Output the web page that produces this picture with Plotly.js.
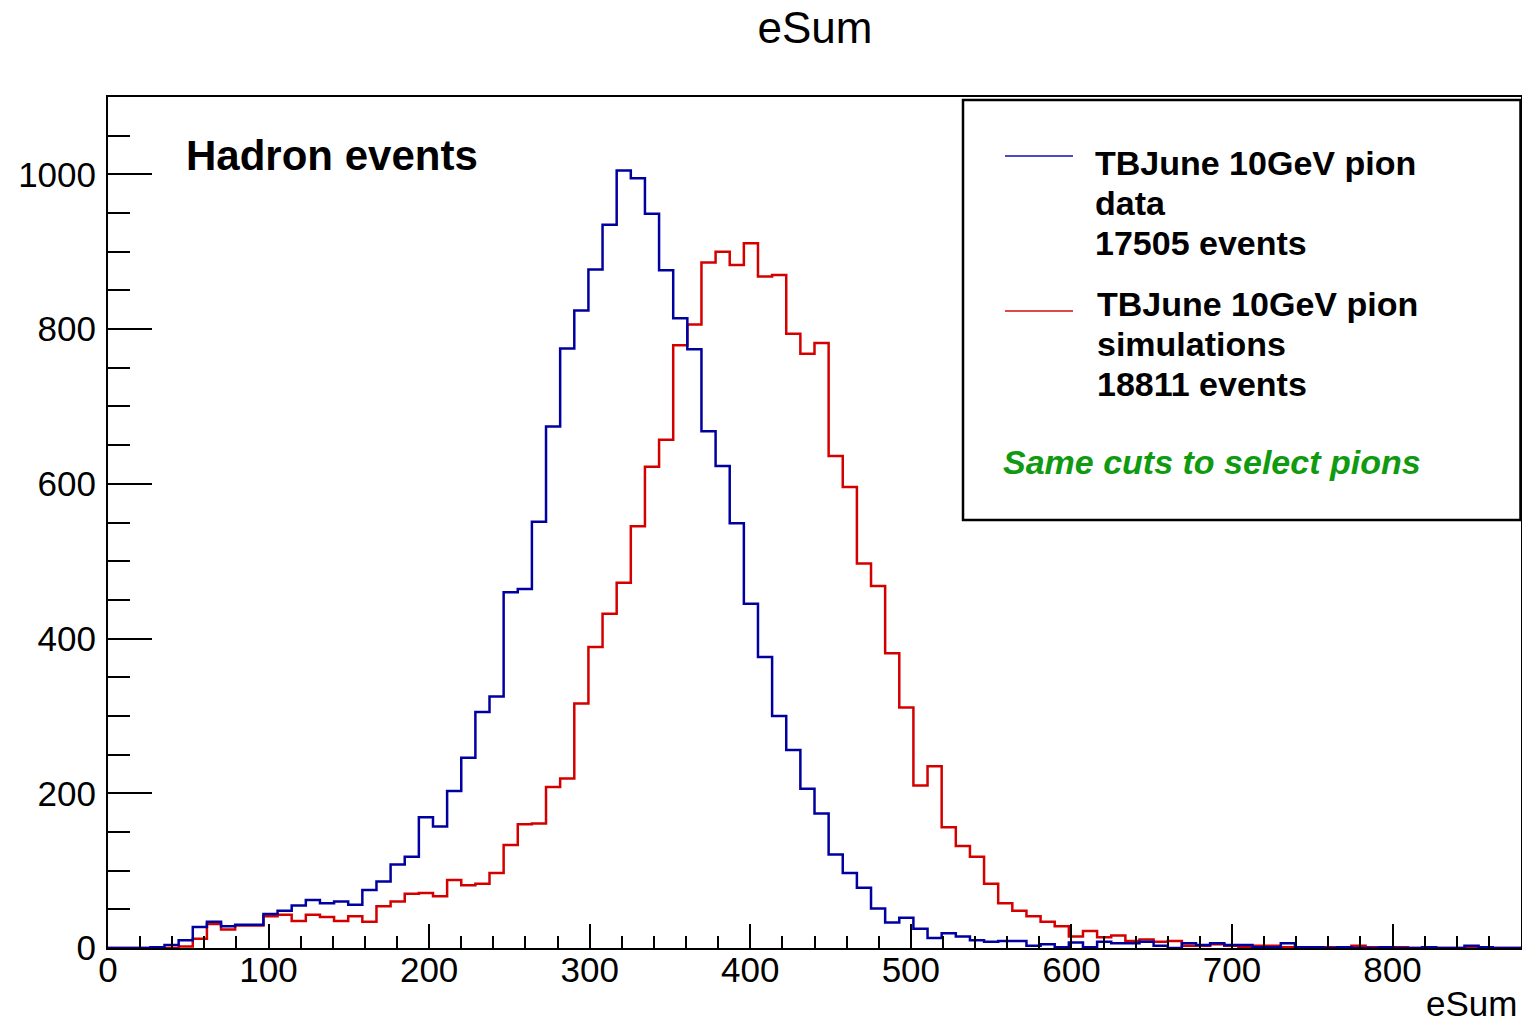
<!DOCTYPE html>
<html>
<head>
<meta charset="utf-8">
<script src="https://cdn.plot.ly/plotly-3.0.1.min.js"></script>
<style>
  html, body { margin: 0; padding: 0; background: #ffffff; }
  #chart { width: 1522px; height: 1025px; }
</style>
</head>
<body>
<div id="chart"></div>
<script>
// ---- Binning (ROOT TH1: 100 bins from 0 to 880) ----
const NBINS = 100;
const XMIN = 0;
const XMAX = 880;

// ---- Data: TBJune 10GeV pion data (17505 events) ----
const dataCounts = [
  0, 0, 0, 1, 4, 10, 27, 34, 28, 30,
  30, 44, 48, 55, 62, 58, 60, 56, 75, 86,
  108, 118, 169, 157, 203, 246, 305, 325, 460, 464,
  551, 674, 775, 824, 877, 935, 1005, 995, 949, 876,
  814, 774, 668, 623, 549, 445, 376, 300, 256, 206,
  174, 121, 97, 78, 51, 33, 39, 25, 13, 19,
  15, 10, 8, 9, 9, 3, 5, 1, 7, 1,
  8, 6, 6, 8, 3, 0, 6, 4, 6, 4,
  4, 1, 1, 6, 1, 1, 0, 1, 0, 0,
  1, 0, 0, 1, 0, 0, 3, 1, 0, 0
];

// ---- Data: TBJune 10GeV pion simulations (18811 events) ----
const simCounts = [
  0, 0, 0, 0, 0, 2, 12, 31, 24, 29,
  29, 41, 43, 35, 43, 40, 35, 41, 34, 54,
  60, 70, 71, 67, 88, 81, 83, 97, 133, 160,
  161, 208, 219, 316, 389, 432, 472, 545, 622, 657,
  779, 806, 886, 900, 883, 911, 868, 870, 794, 768,
  782, 636, 596, 497, 468, 381, 311, 210, 235, 156,
  132, 118, 83, 58, 48, 41, 34, 28, 15, 22,
  14, 16, 9, 11, 8, 9, 3, 3, 5, 3,
  1, 3, 3, 1, 1, 1, 1, 1, 3, 1,
  0, 1, 0, 0, 0, 0, 0, 0, 0, 0
];

// ---- Text ----
const titleText = "eSum";
const xTitleText = "eSum";
const tagText = "Hadron events";
const legData = ["TBJune 10GeV pion", "data", "17505 events"];
const legSim = ["TBJune 10GeV pion", "simulations", "18811 events"];
const noteText = "Same cuts to select pions";

// Histogram outline (step) from bin edges
function stepTrace(counts, name, color) {
  const w = (XMAX - XMIN) / NBINS;
  const xs = [], ys = [];
  for (let i = 0; i < counts.length; i++) {
    xs.push(XMIN + i * w);
    ys.push(counts[i]);
  }
  xs.push(XMAX);
  ys.push(counts[counts.length - 1]);
  return {
    type: 'scatter', mode: 'lines', x: xs, y: ys, name: name,
    line: { shape: 'hv', color: color, width: 2.5 },
    showlegend: false, hoverinfo: 'x+y'
  };
}

const BLUE = '#0000a0';
const RED = '#d40000';

const traces = [
  stepTrace(simCounts, 'TBJune 10GeV pion simulations', RED),
  stepTrace(dataCounts, 'TBJune 10GeV pion data', BLUE)
];

// Pixel helpers for layout placement (plot area: x 108..1521, y 97..948)
const L = 108, R = 1521, T = 97, B = 948;
const px = v => (v - L) / (R - L);
const py = v => (B - v) / (B - T);

const FONT = 'Liberation Sans, Arial, Helvetica, sans-serif';

const annotations = [];
function addText(text, x, y, opts) {
  annotations.push(Object.assign({
    text: text, xref: 'paper', yref: 'paper', x: px(x), y: py(y),
    xanchor: 'left', yanchor: 'middle', showarrow: false,
    font: { family: FONT, size: 34, color: '#000000' }
  }, opts || {}));
}

addText('<b>' + tagText + '</b>', 184, 155, { font: { family: FONT, size: 42, color: '#000' } });
legData.forEach((t, i) => addText('<b>' + t + '</b>', 1093, 163 + 40 * i));
legSim.forEach((t, i) => addText('<b>' + t + '</b>', 1095, 304 + 40 * i));
addText('<b><i>' + noteText + '</i></b>', 1001, 462, { font: { family: FONT, size: 34, color: '#109a10' } });
// x-axis title, right aligned as in ROOT
annotations.push({
  text: xTitleText, xref: 'paper', yref: 'paper', x: px(1518), y: py(1003),
  xanchor: 'right', yanchor: 'middle', showarrow: false, borderpad: 0,
  font: { family: FONT, size: 35, color: '#000' }
});

const shapes = [
  { type: 'rect', xref: 'paper', yref: 'paper', x0: px(963), x1: px(1520.5), y0: py(520), y1: py(100),
    line: { color: '#000', width: 2.5 }, fillcolor: 'rgba(255,255,255,1)', layer: 'above' },
  { type: 'line', xref: 'paper', yref: 'paper', x0: px(1005), x1: px(1073), y0: py(156), y1: py(156),
    line: { color: '#4a4ac8', width: 2 } },
  { type: 'line', xref: 'paper', yref: 'paper', x0: px(1005), x1: px(1073), y0: py(311), y1: py(311),
    line: { color: '#dc4a4a', width: 2 } }
];

const axisCommon = {
  ticks: 'inside', tickcolor: '#000', tickwidth: 2,
  showline: true, linecolor: '#000', linewidth: 2, mirror: true,
  showgrid: false, zeroline: false,
  tickfont: { family: FONT, size: 35, color: '#000' }
};

const layout = {
  width: 1522, height: 1025,
  margin: { l: L, r: 1522 - R, t: T, b: 1025 - B },
  paper_bgcolor: '#ffffff', plot_bgcolor: '#ffffff',
  showlegend: false,
  title: {
    text: titleText, xref: 'container', yref: 'container',
    x: 815 / 1522, xanchor: 'center', y: 1 - 28 / 1025, yanchor: 'middle',
    font: { family: FONT, size: 44, color: '#000' }
  },
  xaxis: Object.assign({}, axisCommon, {
    range: [XMIN, XMAX], tick0: 0, dtick: 100, ticklen: 24, ticklabelstandoff: -10,
    minor: { dtick: 20, tick0: 0, ticks: 'inside', ticklen: 12, tickwidth: 2, tickcolor: '#000', showgrid: false }
  }),
  yaxis: Object.assign({}, axisCommon, {
    range: [0, 1100], tick0: 0, dtick: 200, ticklen: 44, ticklabelstandoff: 3,
    minor: { dtick: 50, tick0: 0, ticks: 'inside', ticklen: 22, tickwidth: 2, tickcolor: '#000', showgrid: false }
  }),
  annotations: annotations,
  shapes: shapes
};

Plotly.newPlot('chart', traces, layout, { displayModeBar: false, staticPlot: true });
</script>
</body>
</html>
